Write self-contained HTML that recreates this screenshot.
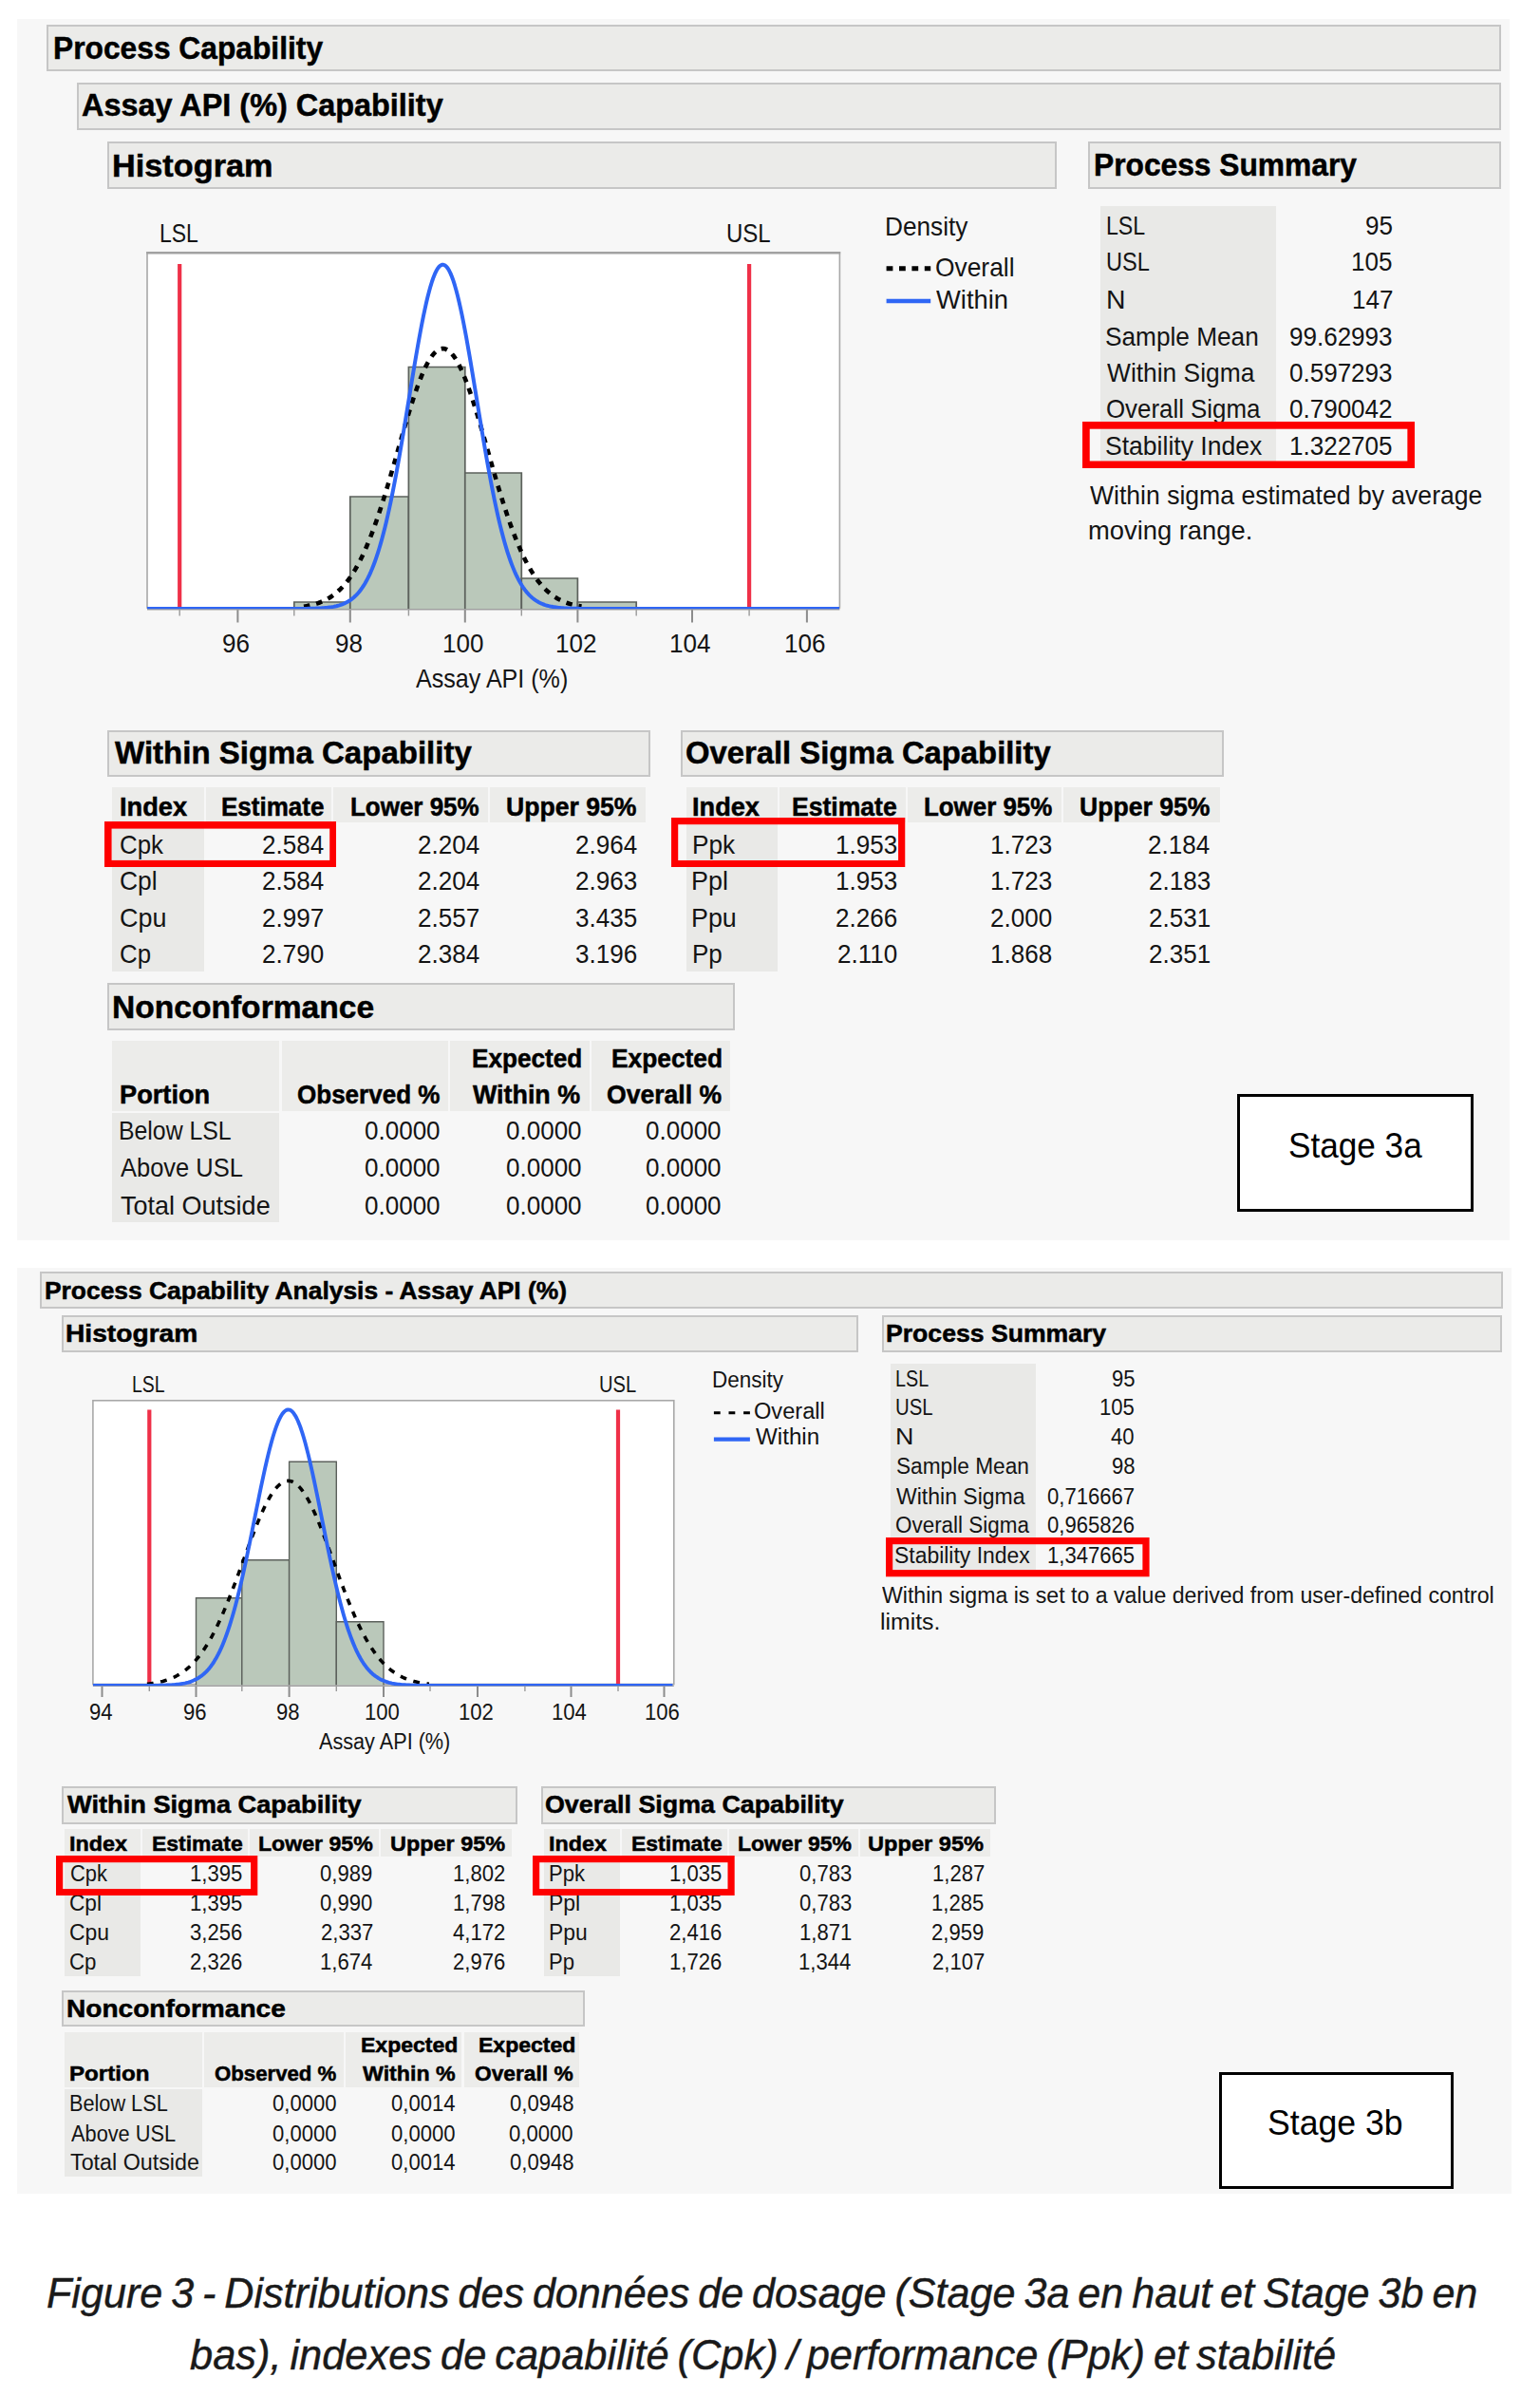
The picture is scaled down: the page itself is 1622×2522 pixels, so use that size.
<!DOCTYPE html>
<html lang="fr"><head><meta charset="utf-8"><title>Process Capability - Figure 3</title><style>
html,body{margin:0;padding:0;background:#fff}
#page{position:relative;width:1622px;height:2522px;overflow:hidden;background:#fff;font-family:"Liberation Sans",sans-serif;color:#141414}
.r{position:absolute;box-sizing:content-box}
.t{position:absolute;white-space:nowrap;transform-origin:0 0;display:block}
.hd{background:#ebebe9;border:2px solid #c6c6c6}
.stage{background:#fff;border:3px solid #000}
.cap{-webkit-text-stroke:0.45px #1a1a1a}
</style></head><body><div id="page">
<div class="r panel" style="left:18.0px;top:20.0px;width:1572.0px;height:1285.5px;background:#f7f7f7;"></div>
<div class="r hd" style="left:49.4px;top:26.0px;width:1527.6px;height:45.3px"></div>
<span class="t" style="left:55.94px;top:31.00px;font-size:34px;line-height:38px;transform:scaleX(0.9336);font-weight:bold;-webkit-text-stroke:0.5px #000;color:#000;">Process Capability</span>
<div class="r hd" style="left:80.5px;top:87.2px;width:1496.5px;height:45.4px"></div>
<span class="t" style="left:86.49px;top:91.00px;font-size:34px;line-height:38px;transform:scaleX(0.9533);font-weight:bold;-webkit-text-stroke:0.5px #000;color:#000;">Assay API (%) Capability</span>
<div class="r hd" style="left:113.0px;top:149.2px;width:995.7px;height:45.6px"></div>
<span class="t" style="left:118.37px;top:155.00px;font-size:34px;line-height:38px;transform:scaleX(1.0081);font-weight:bold;-webkit-text-stroke:0.5px #000;color:#000;">Histogram</span>
<div class="r hd" style="left:1145.5px;top:149.4px;width:431.5px;height:45.4px"></div>
<span class="t" style="left:1151.64px;top:154.00px;font-size:34px;line-height:38px;transform:scaleX(0.9332);font-weight:bold;-webkit-text-stroke:0.5px #000;color:#000;">Process Summary</span>
<svg class="r" style="left:0;top:0" width="1622" height="2522" viewBox="0 0 1622 2522">
<rect x="155" y="265.8" width="729.4" height="374.2" fill="#fff" stroke="#a8a8a8" stroke-width="1.6"/>
<line x1="154.2" x2="885.1999999999999" y1="266.3" y2="266.3" stroke="#a2a2a2" stroke-width="2.4"/>
<path d="M309.8,641.0 V634.0 H368.8 V641.0" fill="#bac8ba" stroke="#5c615c" stroke-width="1.7"/>
<path d="M368.8,641.0 V523.0 H430.4 V641.0" fill="#bac8ba" stroke="#5c615c" stroke-width="1.7"/>
<path d="M430.4,641.0 V386.5 H489.8 V641.0" fill="#bac8ba" stroke="#5c615c" stroke-width="1.7"/>
<path d="M489.8,641.0 V498.0 H549.3 V641.0" fill="#bac8ba" stroke="#5c615c" stroke-width="1.7"/>
<path d="M549.3,641.0 V609.0 H608.4 V641.0" fill="#bac8ba" stroke="#5c615c" stroke-width="1.7"/>
<path d="M608.4,641.0 V634.0 H670.2 V641.0" fill="#bac8ba" stroke="#5c615c" stroke-width="1.7"/>
<line x1="250.4" x2="250.4" y1="641" y2="655.5" stroke="#8c8c8c" stroke-width="2"/>
<line x1="368.8" x2="368.8" y1="641" y2="655.5" stroke="#8c8c8c" stroke-width="2"/>
<line x1="489.8" x2="489.8" y1="641" y2="655.5" stroke="#8c8c8c" stroke-width="2"/>
<line x1="608.4" x2="608.4" y1="641" y2="655.5" stroke="#8c8c8c" stroke-width="2"/>
<line x1="729.0" x2="729.0" y1="641" y2="655.5" stroke="#8c8c8c" stroke-width="2"/>
<line x1="849.9" x2="849.9" y1="641" y2="655.5" stroke="#8c8c8c" stroke-width="2"/>
<line x1="189.2" x2="189.2" y1="641" y2="648.5" stroke="#9a9a9a" stroke-width="1.4"/>
<line x1="309.8" x2="309.8" y1="641" y2="648.5" stroke="#9a9a9a" stroke-width="1.4"/>
<line x1="430.4" x2="430.4" y1="641" y2="648.5" stroke="#9a9a9a" stroke-width="1.4"/>
<line x1="549.3" x2="549.3" y1="641" y2="648.5" stroke="#9a9a9a" stroke-width="1.4"/>
<line x1="670.2" x2="670.2" y1="641" y2="648.5" stroke="#9a9a9a" stroke-width="1.4"/>
<line x1="789.1" x2="789.1" y1="641" y2="648.5" stroke="#9a9a9a" stroke-width="1.4"/>
<line x1="155" x2="884.4" y1="641.8" y2="641.8" stroke="#a0a0a0" stroke-width="1.6"/>
<line x1="189.2" x2="189.2" y1="278" y2="640" stroke="#ef3048" stroke-width="4.2"/>
<line x1="789.1" x2="789.1" y1="278" y2="640" stroke="#ef3048" stroke-width="4.2"/>
<clipPath id="cp155"><rect x="155" y="265.8" width="729.4" height="375.40000000000003"/></clipPath>
<g clip-path="url(#cp155)">
<path d="M320.0,638.65 L321.5,638.41 L323.0,638.15 L324.5,637.87 L326.0,637.56 L327.5,637.22 L329.0,636.86 L330.5,636.46 L332.0,636.04 L333.5,635.57 L335.0,635.07 L336.5,634.53 L338.0,633.95 L339.5,633.33 L341.0,632.66 L342.5,631.93 L344.0,631.16 L345.5,630.33 L347.0,629.44 L348.5,628.49 L350.0,627.47 L351.5,626.39 L353.0,625.23 L354.5,624.00 L356.0,622.70 L357.5,621.31 L359.0,619.84 L360.5,618.28 L362.0,616.63 L363.5,614.89 L365.0,613.05 L366.5,611.12 L368.0,609.08 L369.5,606.93 L371.0,604.68 L372.5,602.31 L374.0,599.84 L375.5,597.24 L377.0,594.54 L378.5,591.71 L380.0,588.76 L381.5,585.70 L383.0,582.51 L384.5,579.20 L386.0,575.76 L387.5,572.21 L389.0,568.53 L390.5,564.74 L392.0,560.82 L393.5,556.79 L395.0,552.65 L396.5,548.39 L398.0,544.02 L399.5,539.55 L401.0,534.99 L402.5,530.32 L404.0,525.57 L405.5,520.73 L407.0,515.81 L408.5,510.82 L410.0,505.77 L411.5,500.67 L413.0,495.51 L414.5,490.32 L416.0,485.10 L417.5,479.86 L419.0,474.61 L420.5,469.36 L422.0,464.12 L423.5,458.90 L425.0,453.72 L426.5,448.58 L428.0,443.50 L429.5,438.48 L431.0,433.55 L432.5,428.71 L434.0,423.97 L435.5,419.35 L437.0,414.85 L438.5,410.50 L440.0,406.29 L441.5,402.25 L443.0,398.38 L444.5,394.70 L446.0,391.21 L447.5,387.92 L449.0,384.84 L450.5,381.99 L452.0,379.36 L453.5,376.98 L455.0,374.84 L456.5,372.94 L458.0,371.31 L459.5,369.94 L461.0,368.83 L462.5,367.99 L464.0,367.42 L465.5,367.12 L467.0,367.10 L468.5,367.35 L470.0,367.87 L471.5,368.67 L473.0,369.73 L474.5,371.06 L476.0,372.65 L477.5,374.50 L479.0,376.60 L480.5,378.94 L482.0,381.53 L483.5,384.34 L485.0,387.38 L486.5,390.63 L488.0,394.09 L489.5,397.75 L491.0,401.58 L492.5,405.60 L494.0,409.78 L495.5,414.11 L497.0,418.58 L498.5,423.18 L500.0,427.90 L501.5,432.72 L503.0,437.64 L504.5,442.64 L506.0,447.71 L507.5,452.84 L509.0,458.02 L510.5,463.23 L512.0,468.47 L513.5,473.72 L515.0,478.97 L516.5,484.21 L518.0,489.44 L519.5,494.64 L521.0,499.80 L522.5,504.91 L524.0,509.97 L525.5,514.97 L527.0,519.90 L528.5,524.75 L530.0,529.52 L531.5,534.20 L533.0,538.79 L534.5,543.28 L536.0,547.66 L537.5,551.93 L539.0,556.10 L540.5,560.15 L542.0,564.08 L543.5,567.90 L545.0,571.60 L546.5,575.17 L548.0,578.62 L549.5,581.96 L551.0,585.17 L552.5,588.25 L554.0,591.22 L555.5,594.07 L557.0,596.79 L558.5,599.40 L560.0,601.90 L561.5,604.28 L563.0,606.56 L564.5,608.72 L566.0,610.78 L567.5,612.73 L569.0,614.59 L570.5,616.35 L572.0,618.01 L573.5,619.58 L575.0,621.07 L576.5,622.47 L578.0,623.79 L579.5,625.03 L581.0,626.20 L582.5,627.29 L584.0,628.32 L585.5,629.28 L587.0,630.18 L588.5,631.02 L590.0,631.81 L591.5,632.54 L593.0,633.22 L594.5,633.85 L596.0,634.44 L597.5,634.98 L599.0,635.49 L600.5,635.96 L602.0,636.39 L603.5,636.79 L605.0,637.16 L606.5,637.50 L608.0,637.82 L609.5,638.10 L611.0,638.37 L612.5,638.61" fill="none" stroke="#000" stroke-width="4.6" stroke-dasharray="6.5 6.9" stroke-dashoffset="0"/>
<path d="M155.0,641.00 L156.5,641.00 L158.0,641.00 L159.5,641.00 L161.0,641.00 L162.5,641.00 L164.0,641.00 L165.5,641.00 L167.0,641.00 L168.5,641.00 L170.0,641.00 L171.5,641.00 L173.0,641.00 L174.5,641.00 L176.0,641.00 L177.5,641.00 L179.0,641.00 L180.5,641.00 L182.0,641.00 L183.5,641.00 L185.0,641.00 L186.5,641.00 L188.0,641.00 L189.5,641.00 L191.0,641.00 L192.5,641.00 L194.0,641.00 L195.5,641.00 L197.0,641.00 L198.5,641.00 L200.0,641.00 L201.5,641.00 L203.0,641.00 L204.5,641.00 L206.0,641.00 L207.5,641.00 L209.0,641.00 L210.5,641.00 L212.0,641.00 L213.5,641.00 L215.0,641.00 L216.5,641.00 L218.0,641.00 L219.5,641.00 L221.0,641.00 L222.5,641.00 L224.0,641.00 L225.5,641.00 L227.0,641.00 L228.5,641.00 L230.0,641.00 L231.5,641.00 L233.0,641.00 L234.5,641.00 L236.0,641.00 L237.5,641.00 L239.0,641.00 L240.5,641.00 L242.0,641.00 L243.5,641.00 L245.0,641.00 L246.5,641.00 L248.0,641.00 L249.5,641.00 L251.0,641.00 L252.5,641.00 L254.0,641.00 L255.5,641.00 L257.0,641.00 L258.5,641.00 L260.0,641.00 L261.5,641.00 L263.0,641.00 L264.5,641.00 L266.0,641.00 L267.5,641.00 L269.0,641.00 L270.5,641.00 L272.0,641.00 L273.5,641.00 L275.0,641.00 L276.5,641.00 L278.0,641.00 L279.5,641.00 L281.0,641.00 L282.5,641.00 L284.0,641.00 L285.5,641.00 L287.0,641.00 L288.5,641.00 L290.0,641.00 L291.5,641.00 L293.0,641.00 L294.5,641.00 L296.0,641.00 L297.5,640.99 L299.0,640.99 L300.5,640.99 L302.0,640.99 L303.5,640.99 L305.0,640.99 L306.5,640.98 L308.0,640.98 L309.5,640.97 L311.0,640.97 L312.5,640.96 L314.0,640.96 L315.5,640.95 L317.0,640.94 L318.5,640.93 L320.0,640.91 L321.5,640.90 L323.0,640.88 L324.5,640.85 L326.0,640.83 L327.5,640.80 L329.0,640.76 L330.5,640.72 L332.0,640.67 L333.5,640.62 L335.0,640.56 L336.5,640.48 L338.0,640.40 L339.5,640.30 L341.0,640.19 L342.5,640.07 L344.0,639.92 L345.5,639.76 L347.0,639.57 L348.5,639.36 L350.0,639.12 L351.5,638.85 L353.0,638.54 L354.5,638.20 L356.0,637.81 L357.5,637.38 L359.0,636.89 L360.5,636.35 L362.0,635.74 L363.5,635.07 L365.0,634.32 L366.5,633.49 L368.0,632.57 L369.5,631.55 L371.0,630.43 L372.5,629.20 L374.0,627.84 L375.5,626.36 L377.0,624.74 L378.5,622.97 L380.0,621.04 L381.5,618.95 L383.0,616.67 L384.5,614.21 L386.0,611.56 L387.5,608.69 L389.0,605.61 L390.5,602.31 L392.0,598.77 L393.5,594.98 L395.0,590.95 L396.5,586.65 L398.0,582.09 L399.5,577.26 L401.0,572.15 L402.5,566.77 L404.0,561.10 L405.5,555.15 L407.0,548.92 L408.5,542.40 L410.0,535.62 L411.5,528.56 L413.0,521.23 L414.5,513.66 L416.0,505.84 L417.5,497.79 L419.0,489.53 L420.5,481.07 L422.0,472.43 L423.5,463.64 L425.0,454.71 L426.5,445.68 L428.0,436.56 L429.5,427.40 L431.0,418.21 L432.5,409.03 L434.0,399.90 L435.5,390.85 L437.0,381.91 L438.5,373.12 L440.0,364.51 L441.5,356.13 L443.0,348.01 L444.5,340.18 L446.0,332.68 L447.5,325.54 L449.0,318.81 L450.5,312.50 L452.0,306.66 L453.5,301.30 L455.0,296.47 L456.5,292.17 L458.0,288.44 L459.5,285.30 L461.0,282.75 L462.5,280.81 L464.0,279.49 L465.5,278.81 L467.0,278.75 L468.5,279.33 L470.0,280.54 L471.5,282.38 L473.0,284.82 L474.5,287.87 L476.0,291.50 L477.5,295.70 L479.0,300.45 L480.5,305.72 L482.0,311.48 L483.5,317.71 L485.0,324.37 L486.5,331.44 L488.0,338.88 L489.5,346.66 L491.0,354.74 L492.5,363.08 L494.0,371.65 L495.5,380.41 L497.0,389.33 L498.5,398.36 L500.0,407.49 L501.5,416.66 L503.0,425.84 L504.5,435.01 L506.0,444.14 L507.5,453.19 L509.0,462.13 L510.5,470.95 L512.0,479.62 L513.5,488.11 L515.0,496.41 L516.5,504.49 L518.0,512.35 L519.5,519.97 L521.0,527.34 L522.5,534.44 L524.0,541.27 L525.5,547.83 L527.0,554.11 L528.5,560.11 L530.0,565.83 L531.5,571.26 L533.0,576.42 L534.5,581.29 L536.0,585.90 L537.5,590.24 L539.0,594.32 L540.5,598.14 L542.0,601.73 L543.5,605.07 L545.0,608.19 L546.5,611.09 L548.0,613.78 L549.5,616.27 L551.0,618.57 L552.5,620.70 L554.0,622.65 L555.5,624.45 L557.0,626.09 L558.5,627.60 L560.0,628.98 L561.5,630.23 L563.0,631.37 L564.5,632.40 L566.0,633.34 L567.5,634.18 L569.0,634.95 L570.5,635.63 L572.0,636.25 L573.5,636.80 L575.0,637.30 L576.5,637.74 L578.0,638.14 L579.5,638.49 L581.0,638.80 L582.5,639.08 L584.0,639.32 L585.5,639.54 L587.0,639.73 L588.5,639.90 L590.0,640.04 L591.5,640.17 L593.0,640.29 L594.5,640.38 L596.0,640.47 L597.5,640.55 L599.0,640.61 L600.5,640.67 L602.0,640.71 L603.5,640.76 L605.0,640.79 L606.5,640.82 L608.0,640.85 L609.5,640.87 L611.0,640.89 L612.5,640.91 L614.0,640.92 L615.5,640.94 L617.0,640.95 L618.5,640.95 L620.0,640.96 L621.5,640.97 L623.0,640.97 L624.5,640.98 L626.0,640.98 L627.5,640.98 L629.0,640.99 L630.5,640.99 L632.0,640.99 L633.5,640.99 L635.0,640.99 L636.5,641.00 L638.0,641.00 L639.5,641.00 L641.0,641.00 L642.5,641.00 L644.0,641.00 L645.5,641.00 L647.0,641.00 L648.5,641.00 L650.0,641.00 L651.5,641.00 L653.0,641.00 L654.5,641.00 L656.0,641.00 L657.5,641.00 L659.0,641.00 L660.5,641.00 L662.0,641.00 L663.5,641.00 L665.0,641.00 L666.5,641.00 L668.0,641.00 L669.5,641.00 L671.0,641.00 L672.5,641.00 L674.0,641.00 L675.5,641.00 L677.0,641.00 L678.5,641.00 L680.0,641.00 L681.5,641.00 L683.0,641.00 L684.5,641.00 L686.0,641.00 L687.5,641.00 L689.0,641.00 L690.5,641.00 L692.0,641.00 L693.5,641.00 L695.0,641.00 L696.5,641.00 L698.0,641.00 L699.5,641.00 L701.0,641.00 L702.5,641.00 L704.0,641.00 L705.5,641.00 L707.0,641.00 L708.5,641.00 L710.0,641.00 L711.5,641.00 L713.0,641.00 L714.5,641.00 L716.0,641.00 L717.5,641.00 L719.0,641.00 L720.5,641.00 L722.0,641.00 L723.5,641.00 L725.0,641.00 L726.5,641.00 L728.0,641.00 L729.5,641.00 L731.0,641.00 L732.5,641.00 L734.0,641.00 L735.5,641.00 L737.0,641.00 L738.5,641.00 L740.0,641.00 L741.5,641.00 L743.0,641.00 L744.5,641.00 L746.0,641.00 L747.5,641.00 L749.0,641.00 L750.5,641.00 L752.0,641.00 L753.5,641.00 L755.0,641.00 L756.5,641.00 L758.0,641.00 L759.5,641.00 L761.0,641.00 L762.5,641.00 L764.0,641.00 L765.5,641.00 L767.0,641.00 L768.5,641.00 L770.0,641.00 L771.5,641.00 L773.0,641.00 L774.5,641.00 L776.0,641.00 L777.5,641.00 L779.0,641.00 L780.5,641.00 L782.0,641.00 L783.5,641.00 L785.0,641.00 L786.5,641.00 L788.0,641.00 L789.5,641.00 L791.0,641.00 L792.5,641.00 L794.0,641.00 L795.5,641.00 L797.0,641.00 L798.5,641.00 L800.0,641.00 L801.5,641.00 L803.0,641.00 L804.5,641.00 L806.0,641.00 L807.5,641.00 L809.0,641.00 L810.5,641.00 L812.0,641.00 L813.5,641.00 L815.0,641.00 L816.5,641.00 L818.0,641.00 L819.5,641.00 L821.0,641.00 L822.5,641.00 L824.0,641.00 L825.5,641.00 L827.0,641.00 L828.5,641.00 L830.0,641.00 L831.5,641.00 L833.0,641.00 L834.5,641.00 L836.0,641.00 L837.5,641.00 L839.0,641.00 L840.5,641.00 L842.0,641.00 L843.5,641.00 L845.0,641.00 L846.5,641.00 L848.0,641.00 L849.5,641.00 L851.0,641.00 L852.5,641.00 L854.0,641.00 L855.5,641.00 L857.0,641.00 L858.5,641.00 L860.0,641.00 L861.5,641.00 L863.0,641.00 L864.5,641.00 L866.0,641.00 L867.5,641.00 L869.0,641.00 L870.5,641.00 L872.0,641.00 L873.5,641.00 L875.0,641.00 L876.5,641.00 L878.0,641.00 L879.5,641.00 L881.0,641.00 L882.5,641.00 L884.0,641.00" fill="none" stroke="#2f66f5" stroke-width="4" stroke-linejoin="round"/>
</g></svg>
<span class="t" style="left:234.49px;top:662.00px;font-size:27.6px;line-height:31px;transform:scaleX(0.9430);">96</span>
<span class="t" style="left:352.89px;top:662.00px;font-size:27.6px;line-height:31px;transform:scaleX(0.9430);">98</span>
<span class="t" style="left:466.21px;top:662.00px;font-size:27.6px;line-height:31px;transform:scaleX(0.9430);">100</span>
<span class="t" style="left:585.01px;top:662.00px;font-size:27.6px;line-height:31px;transform:scaleX(0.9430);">102</span>
<span class="t" style="left:705.35px;top:662.00px;font-size:27.6px;line-height:31px;transform:scaleX(0.9430);">104</span>
<span class="t" style="left:826.38px;top:662.00px;font-size:27.6px;line-height:31px;transform:scaleX(0.9430);">106</span>
<span class="t" style="left:438.00px;top:699.00px;font-size:27.6px;line-height:31px;transform:scaleX(0.9089);">Assay API (%)</span>
<span class="t" style="left:168.36px;top:230.00px;font-size:27.6px;line-height:31px;transform:scaleX(0.8331);">LSL</span>
<span class="t" style="left:765.00px;top:230.00px;font-size:27.6px;line-height:31px;transform:scaleX(0.8704);">USL</span>
<span class="t" style="left:931.50px;top:223.00px;font-size:27.6px;line-height:31px;transform:scaleX(0.9506);">Density</span>
<span class="t" style="left:985.01px;top:266.00px;font-size:27.6px;line-height:31px;transform:scaleX(0.9559);">Overall</span>
<span class="t" style="left:986.36px;top:300.00px;font-size:27.6px;line-height:31px;transform:scaleX(0.9912);">Within</span>
<svg class="r" style="left:0;top:0" width="1622" height="2522" viewBox="0 0 1622 2522"><line x1="933.6" x2="980.2" y1="282.8" y2="282.8" stroke="#000" stroke-width="5" stroke-dasharray="6.8 6.6"/><line x1="933.6" x2="980.2" y1="317" y2="317" stroke="#2f66f5" stroke-width="4.4"/></svg>
<div class="r " style="left:1158.8px;top:217.3px;width:185.5px;height:268.3px;background:#e9e9e7;"></div>
<span class="t" style="left:1164.75px;top:222.00px;font-size:27.6px;line-height:31px;transform:scaleX(0.8375);">LSL</span>
<span class="t" style="left:1437.85px;top:222.00px;font-size:27.6px;line-height:31px;transform:scaleX(0.9430);">95</span>
<span class="t" style="left:1164.83px;top:260.00px;font-size:27.6px;line-height:31px;transform:scaleX(0.8546);">USL</span>
<span class="t" style="left:1423.41px;top:260.00px;font-size:27.6px;line-height:31px;transform:scaleX(0.9430);">105</span>
<span class="t" style="left:1164.93px;top:300.00px;font-size:27.6px;line-height:31px;transform:scaleX(1.0287);">N</span>
<span class="t" style="left:1423.67px;top:300.00px;font-size:27.6px;line-height:31px;transform:scaleX(0.9430);">147</span>
<span class="t" style="left:1164.32px;top:339.00px;font-size:27.6px;line-height:31px;transform:scaleX(0.9500);">Sample Mean</span>
<span class="t" style="left:1358.21px;top:339.00px;font-size:27.6px;line-height:31px;transform:scaleX(0.9430);">99.62993</span>
<span class="t" style="left:1165.57px;top:377.00px;font-size:27.6px;line-height:31px;transform:scaleX(0.9555);">Within Sigma</span>
<span class="t" style="left:1358.21px;top:377.00px;font-size:27.6px;line-height:31px;transform:scaleX(0.9430);">0.597293</span>
<span class="t" style="left:1164.54px;top:415.00px;font-size:27.6px;line-height:31px;transform:scaleX(0.9373);">Overall Sigma</span>
<span class="t" style="left:1358.47px;top:415.00px;font-size:27.6px;line-height:31px;transform:scaleX(0.9430);">0.790042</span>
<span class="t" style="left:1164.41px;top:454.00px;font-size:27.6px;line-height:31px;transform:scaleX(0.9619);">Stability Index</span>
<span class="t" style="left:1358.21px;top:454.00px;font-size:27.6px;line-height:31px;transform:scaleX(0.9430);">1.322705</span>
<svg class="r red" style="left:1139.6px;top:443.8px" width="350.1" height="49.2" viewBox="0 0 350.1 49.2"><rect x="3.85" y="3.85" width="342.4" height="41.5" fill="none" stroke="#fe0000" stroke-width="7.7"/></svg>
<span class="t" style="left:1147.87px;top:506.00px;font-size:27.6px;line-height:31px;transform:scaleX(0.9624);">Within sigma estimated by average</span>
<span class="t" style="left:1146.22px;top:543.00px;font-size:27.6px;line-height:31px;transform:scaleX(0.9908);">moving range.</span>
<div class="r hd" style="left:112.9px;top:768.9px;width:567.7px;height:44.7px"></div>
<span class="t" style="left:121.00px;top:773.00px;font-size:34px;line-height:38px;transform:scaleX(0.9712);font-weight:bold;-webkit-text-stroke:0.5px #000;color:#000;">Within Sigma Capability</span>
<div class="r " style="left:118.3px;top:829.3px;width:96.9px;height:36.7px;background:#ececea;"></div>
<div class="r " style="left:217.2px;top:829.3px;width:132.2px;height:36.7px;background:#ececea;"></div>
<div class="r " style="left:351.4px;top:829.3px;width:162.3px;height:36.7px;background:#ececea;"></div>
<div class="r " style="left:515.7px;top:829.3px;width:164.8px;height:36.7px;background:#ececea;"></div>
<div class="r " style="left:118.3px;top:866.0px;width:96.9px;height:157.0px;background:#e9e9e7;"></div>
<span class="t" style="left:126.03px;top:834.00px;font-size:27.5px;line-height:31px;transform:scaleX(0.9907);font-weight:bold;-webkit-text-stroke:0.5px #000;color:#000;">Index</span>
<span class="t" style="left:232.51px;top:834.00px;font-size:27.5px;line-height:31px;transform:scaleX(0.9464);font-weight:bold;-webkit-text-stroke:0.5px #000;color:#000;">Estimate</span>
<span class="t" style="left:368.81px;top:834.00px;font-size:27.5px;line-height:31px;transform:scaleX(0.9440);font-weight:bold;-webkit-text-stroke:0.5px #000;color:#000;">Lower 95%</span>
<span class="t" style="left:533.20px;top:834.00px;font-size:27.5px;line-height:31px;transform:scaleX(0.9668);font-weight:bold;-webkit-text-stroke:0.5px #000;color:#000;">Upper 95%</span>
<span class="t" style="left:125.71px;top:874.00px;font-size:27.6px;line-height:31px;transform:scaleX(0.9362);">Cpk</span>
<span class="t" style="left:275.71px;top:874.00px;font-size:27.6px;line-height:31px;transform:scaleX(0.9430);">2.584</span>
<span class="t" style="left:439.51px;top:874.00px;font-size:27.6px;line-height:31px;transform:scaleX(0.9430);">2.204</span>
<span class="t" style="left:605.71px;top:874.00px;font-size:27.6px;line-height:31px;transform:scaleX(0.9430);">2.964</span>
<span class="t" style="left:125.68px;top:912.00px;font-size:27.6px;line-height:31px;transform:scaleX(0.9575);">Cpl</span>
<span class="t" style="left:275.71px;top:912.00px;font-size:27.6px;line-height:31px;transform:scaleX(0.9430);">2.584</span>
<span class="t" style="left:439.51px;top:912.00px;font-size:27.6px;line-height:31px;transform:scaleX(0.9430);">2.204</span>
<span class="t" style="left:605.97px;top:912.00px;font-size:27.6px;line-height:31px;transform:scaleX(0.9430);">2.963</span>
<span class="t" style="left:125.65px;top:951.00px;font-size:27.6px;line-height:31px;transform:scaleX(0.9753);">Cpu</span>
<span class="t" style="left:276.23px;top:951.00px;font-size:27.6px;line-height:31px;transform:scaleX(0.9430);">2.997</span>
<span class="t" style="left:440.03px;top:951.00px;font-size:27.6px;line-height:31px;transform:scaleX(0.9430);">2.557</span>
<span class="t" style="left:605.97px;top:951.00px;font-size:27.6px;line-height:31px;transform:scaleX(0.9430);">3.435</span>
<span class="t" style="left:125.71px;top:989.00px;font-size:27.6px;line-height:31px;transform:scaleX(0.9356);">Cp</span>
<span class="t" style="left:275.84px;top:989.00px;font-size:27.6px;line-height:31px;transform:scaleX(0.9430);">2.790</span>
<span class="t" style="left:439.51px;top:989.00px;font-size:27.6px;line-height:31px;transform:scaleX(0.9430);">2.384</span>
<span class="t" style="left:605.97px;top:989.00px;font-size:27.6px;line-height:31px;transform:scaleX(0.9430);">3.196</span>
<svg class="r red" style="left:109.7px;top:864.7px" width="244.8" height="48.5" viewBox="0 0 244.8 48.5"><rect x="3.8" y="3.8" width="237.2" height="40.9" fill="none" stroke="#fe0000" stroke-width="7.6"/></svg>
<div class="r hd" style="left:716.9px;top:768.9px;width:568.1px;height:44.7px"></div>
<span class="t" style="left:722.19px;top:773.00px;font-size:34px;line-height:38px;transform:scaleX(0.9647);font-weight:bold;-webkit-text-stroke:0.5px #000;color:#000;">Overall Sigma Capability</span>
<div class="r " style="left:723.0px;top:829.3px;width:96.0px;height:36.7px;background:#ececea;"></div>
<div class="r " style="left:821.0px;top:829.3px;width:133.2px;height:36.7px;background:#ececea;"></div>
<div class="r " style="left:956.2px;top:829.3px;width:161.5px;height:36.7px;background:#ececea;"></div>
<div class="r " style="left:1119.7px;top:829.3px;width:164.9px;height:36.7px;background:#ececea;"></div>
<div class="r " style="left:723.0px;top:866.0px;width:96.0px;height:157.0px;background:#e9e9e7;"></div>
<span class="t" style="left:729.03px;top:834.00px;font-size:27.5px;line-height:31px;transform:scaleX(0.9878);font-weight:bold;-webkit-text-stroke:0.5px #000;color:#000;">Index</span>
<span class="t" style="left:834.27px;top:834.00px;font-size:27.5px;line-height:31px;transform:scaleX(0.9661);font-weight:bold;-webkit-text-stroke:0.5px #000;color:#000;">Estimate</span>
<span class="t" style="left:972.82px;top:834.00px;font-size:27.5px;line-height:31px;transform:scaleX(0.9411);font-weight:bold;-webkit-text-stroke:0.5px #000;color:#000;">Lower 95%</span>
<span class="t" style="left:1136.90px;top:834.00px;font-size:27.5px;line-height:31px;transform:scaleX(0.9668);font-weight:bold;-webkit-text-stroke:0.5px #000;color:#000;">Upper 95%</span>
<span class="t" style="left:728.50px;top:874.00px;font-size:27.6px;line-height:31px;transform:scaleX(0.9493);">Ppk</span>
<span class="t" style="left:879.97px;top:874.00px;font-size:27.6px;line-height:31px;transform:scaleX(0.9430);">1.953</span>
<span class="t" style="left:1043.37px;top:874.00px;font-size:27.6px;line-height:31px;transform:scaleX(0.9430);">1.723</span>
<span class="t" style="left:1209.41px;top:874.00px;font-size:27.6px;line-height:31px;transform:scaleX(0.9430);">2.184</span>
<span class="t" style="left:728.45px;top:912.00px;font-size:27.6px;line-height:31px;transform:scaleX(0.9755);">Ppl</span>
<span class="t" style="left:879.97px;top:912.00px;font-size:27.6px;line-height:31px;transform:scaleX(0.9430);">1.953</span>
<span class="t" style="left:1043.37px;top:912.00px;font-size:27.6px;line-height:31px;transform:scaleX(0.9430);">1.723</span>
<span class="t" style="left:1209.67px;top:912.00px;font-size:27.6px;line-height:31px;transform:scaleX(0.9430);">2.183</span>
<span class="t" style="left:728.45px;top:951.00px;font-size:27.6px;line-height:31px;transform:scaleX(0.9728);">Ppu</span>
<span class="t" style="left:879.97px;top:951.00px;font-size:27.6px;line-height:31px;transform:scaleX(0.9430);">2.266</span>
<span class="t" style="left:1043.24px;top:951.00px;font-size:27.6px;line-height:31px;transform:scaleX(0.9430);">2.000</span>
<span class="t" style="left:1209.80px;top:951.00px;font-size:27.6px;line-height:31px;transform:scaleX(0.9430);">2.531</span>
<span class="t" style="left:728.52px;top:989.00px;font-size:27.6px;line-height:31px;transform:scaleX(0.9420);">Pp</span>
<span class="t" style="left:881.80px;top:989.00px;font-size:27.6px;line-height:31px;transform:scaleX(0.9430);">2.110</span>
<span class="t" style="left:1043.37px;top:989.00px;font-size:27.6px;line-height:31px;transform:scaleX(0.9430);">1.868</span>
<span class="t" style="left:1209.80px;top:989.00px;font-size:27.6px;line-height:31px;transform:scaleX(0.9430);">2.351</span>
<svg class="r red" style="left:707.3px;top:860.8px" width="246.3" height="52.2" viewBox="0 0 246.3 52.2"><rect x="3.6" y="3.6" width="239.1" height="45.0" fill="none" stroke="#fe0000" stroke-width="7.2"/></svg>
<div class="r hd" style="left:112.7px;top:1035.0px;width:656.9px;height:45.5px"></div>
<span class="t" style="left:118.42px;top:1041.00px;font-size:34px;line-height:38px;transform:scaleX(0.9874);font-weight:bold;-webkit-text-stroke:0.5px #000;color:#000;">Nonconformance</span>
<div class="r " style="left:118.2px;top:1096.4px;width:176.3px;height:73.6px;background:#ececea;"></div>
<div class="r " style="left:296.5px;top:1096.4px;width:175.2px;height:73.6px;background:#ececea;"></div>
<div class="r " style="left:473.7px;top:1096.4px;width:147.1px;height:73.6px;background:#ececea;"></div>
<div class="r " style="left:622.8px;top:1096.4px;width:146.2px;height:73.6px;background:#ececea;"></div>
<div class="r " style="left:118.2px;top:1171.5px;width:175.8px;height:115.3px;background:#e9e9e7;"></div>
<span class="t" style="left:125.53px;top:1137.00px;font-size:27.5px;line-height:31px;transform:scaleX(0.9891);font-weight:bold;-webkit-text-stroke:0.5px #000;color:#000;">Portion</span>
<span class="t" style="left:312.56px;top:1137.00px;font-size:27.5px;line-height:31px;transform:scaleX(0.9462);font-weight:bold;-webkit-text-stroke:0.5px #000;color:#000;">Observed %</span>
<span class="t" style="left:496.50px;top:1099.00px;font-size:27.5px;line-height:31px;transform:scaleX(0.9514);font-weight:bold;-webkit-text-stroke:0.5px #000;color:#000;">Expected</span>
<span class="t" style="left:498.20px;top:1137.00px;font-size:27.5px;line-height:31px;transform:scaleX(0.9764);font-weight:bold;-webkit-text-stroke:0.5px #000;color:#000;">Within %</span>
<span class="t" style="left:644.29px;top:1099.00px;font-size:27.5px;line-height:31px;transform:scaleX(0.9573);font-weight:bold;-webkit-text-stroke:0.5px #000;color:#000;">Expected</span>
<span class="t" style="left:638.54px;top:1137.00px;font-size:27.5px;line-height:31px;transform:scaleX(0.9659);font-weight:bold;-webkit-text-stroke:0.5px #000;color:#000;">Overall %</span>
<span class="t" style="left:125.31px;top:1175.00px;font-size:27.6px;line-height:31px;transform:scaleX(0.8992);">Below LSL</span>
<span class="t" style="left:383.57px;top:1175.00px;font-size:27.6px;line-height:31px;transform:scaleX(0.9430);">0.0000</span>
<span class="t" style="left:532.67px;top:1175.00px;font-size:27.6px;line-height:31px;transform:scaleX(0.9430);">0.0000</span>
<span class="t" style="left:680.27px;top:1175.00px;font-size:27.6px;line-height:31px;transform:scaleX(0.9430);">0.0000</span>
<span class="t" style="left:127.30px;top:1214.00px;font-size:27.6px;line-height:31px;transform:scaleX(0.9234);">Above USL</span>
<span class="t" style="left:383.57px;top:1214.00px;font-size:27.6px;line-height:31px;transform:scaleX(0.9430);">0.0000</span>
<span class="t" style="left:532.67px;top:1214.00px;font-size:27.6px;line-height:31px;transform:scaleX(0.9430);">0.0000</span>
<span class="t" style="left:680.27px;top:1214.00px;font-size:27.6px;line-height:31px;transform:scaleX(0.9430);">0.0000</span>
<span class="t" style="left:126.76px;top:1254.00px;font-size:27.6px;line-height:31px;transform:scaleX(0.9790);">Total Outside</span>
<span class="t" style="left:383.57px;top:1254.00px;font-size:27.6px;line-height:31px;transform:scaleX(0.9430);">0.0000</span>
<span class="t" style="left:532.67px;top:1254.00px;font-size:27.6px;line-height:31px;transform:scaleX(0.9430);">0.0000</span>
<span class="t" style="left:680.27px;top:1254.00px;font-size:27.6px;line-height:31px;transform:scaleX(0.9430);">0.0000</span>
<div class="r stage" style="left:1302.8px;top:1152px;width:242.8px;height:118.2px"></div>
<span class="t" style="left:1356.82px;top:1186.00px;font-size:36.5px;line-height:41px;transform:scaleX(0.9629);color:#000;">Stage 3a</span>
<div class="r panel" style="left:18.0px;top:1335.0px;width:1574.0px;height:975.0px;background:#f7f7f7;"></div>
<div class="r hd" style="left:41.6px;top:1339.4px;width:1537.4px;height:34.9px"></div>
<span class="t" style="left:46.98px;top:1345.00px;font-size:25.5px;line-height:28px;transform:scaleX(1.0350);font-weight:bold;-webkit-text-stroke:0.5px #000;color:#000;">Process Capability Analysis - Assay API (%)</span>
<div class="r hd" style="left:65.0px;top:1385.2px;width:835.0px;height:34.4px"></div>
<span class="t" style="left:68.97px;top:1390.00px;font-size:25.5px;line-height:28px;transform:scaleX(1.1049);font-weight:bold;-webkit-text-stroke:0.5px #000;color:#000;">Histogram</span>
<div class="r hd" style="left:929.4px;top:1385.2px;width:648.3px;height:34.4px"></div>
<span class="t" style="left:933.07px;top:1390.00px;font-size:25.5px;line-height:28px;transform:scaleX(1.0430);font-weight:bold;-webkit-text-stroke:0.5px #000;color:#000;">Process Summary</span>
<svg class="r" style="left:0;top:0" width="1622" height="2522" viewBox="0 0 1622 2522">
<rect x="97.9" y="1474.8" width="611.9" height="298.70000000000005" fill="#fff" stroke="#a8a8a8" stroke-width="1.6"/>
<path d="M206.5,1774.5 V1682.7 H254.8 V1774.5" fill="#bac8ba" stroke="#5c615c" stroke-width="1.4"/>
<path d="M254.8,1774.5 V1642.7 H304.6 V1774.5" fill="#bac8ba" stroke="#5c615c" stroke-width="1.4"/>
<path d="M304.6,1774.5 V1539.3 H354.3 V1774.5" fill="#bac8ba" stroke="#5c615c" stroke-width="1.4"/>
<path d="M354.3,1774.5 V1707.7 H404.0 V1774.5" fill="#bac8ba" stroke="#5c615c" stroke-width="1.4"/>
<line x1="107.5" x2="107.5" y1="1774.5" y2="1787.0" stroke="#8c8c8c" stroke-width="2"/>
<line x1="206.5" x2="206.5" y1="1774.5" y2="1787.0" stroke="#8c8c8c" stroke-width="2"/>
<line x1="304.6" x2="304.6" y1="1774.5" y2="1787.0" stroke="#8c8c8c" stroke-width="2"/>
<line x1="404.0" x2="404.0" y1="1774.5" y2="1787.0" stroke="#8c8c8c" stroke-width="2"/>
<line x1="503.0" x2="503.0" y1="1774.5" y2="1787.0" stroke="#8c8c8c" stroke-width="2"/>
<line x1="601.5" x2="601.5" y1="1774.5" y2="1787.0" stroke="#8c8c8c" stroke-width="2"/>
<line x1="699.5" x2="699.5" y1="1774.5" y2="1787.0" stroke="#8c8c8c" stroke-width="2"/>
<line x1="157.3" x2="157.3" y1="1774.5" y2="1781.0" stroke="#9a9a9a" stroke-width="1.4"/>
<line x1="254.8" x2="254.8" y1="1774.5" y2="1781.0" stroke="#9a9a9a" stroke-width="1.4"/>
<line x1="354.3" x2="354.3" y1="1774.5" y2="1781.0" stroke="#9a9a9a" stroke-width="1.4"/>
<line x1="453.0" x2="453.0" y1="1774.5" y2="1781.0" stroke="#9a9a9a" stroke-width="1.4"/>
<line x1="552.9" x2="552.9" y1="1774.5" y2="1781.0" stroke="#9a9a9a" stroke-width="1.4"/>
<line x1="651.0" x2="651.0" y1="1774.5" y2="1781.0" stroke="#9a9a9a" stroke-width="1.4"/>
<line x1="97.9" x2="709.8" y1="1775.3" y2="1775.3" stroke="#a0a0a0" stroke-width="1.6"/>
<line x1="157.3" x2="157.3" y1="1484.5" y2="1773.5" stroke="#ef3048" stroke-width="4.2"/>
<line x1="651.0" x2="651.0" y1="1484.5" y2="1773.5" stroke="#ef3048" stroke-width="4.2"/>
<clipPath id="cp97"><rect x="97.9" y="1474.8" width="611.9" height="300.4000000000001"/></clipPath>
<g clip-path="url(#cp97)">
<path d="M154.9,1773.35 L156.4,1773.18 L157.9,1772.99 L159.4,1772.79 L160.9,1772.57 L162.4,1772.33 L163.9,1772.07 L165.4,1771.79 L166.9,1771.48 L168.4,1771.15 L169.9,1770.79 L171.4,1770.41 L172.9,1769.99 L174.4,1769.54 L175.9,1769.06 L177.4,1768.54 L178.9,1767.98 L180.4,1767.38 L181.9,1766.74 L183.4,1766.05 L184.9,1765.31 L186.4,1764.53 L187.9,1763.69 L189.4,1762.80 L190.9,1761.85 L192.4,1760.84 L193.9,1759.77 L195.4,1758.63 L196.9,1757.43 L198.4,1756.15 L199.9,1754.80 L201.4,1753.38 L202.9,1751.88 L204.4,1750.31 L205.9,1748.65 L207.4,1746.90 L208.9,1745.07 L210.4,1743.16 L211.9,1741.15 L213.4,1739.06 L214.9,1736.87 L216.4,1734.59 L217.9,1732.21 L219.4,1729.74 L220.9,1727.17 L222.4,1724.51 L223.9,1721.76 L225.4,1718.91 L226.9,1715.96 L228.4,1712.92 L229.9,1709.79 L231.4,1706.57 L232.9,1703.26 L234.4,1699.87 L235.9,1696.39 L237.4,1692.84 L238.9,1689.21 L240.4,1685.51 L241.9,1681.74 L243.4,1677.90 L244.9,1674.01 L246.4,1670.07 L247.9,1666.09 L249.4,1662.06 L250.9,1658.00 L252.4,1653.91 L253.9,1649.81 L255.4,1645.70 L256.9,1641.58 L258.4,1637.47 L259.9,1633.37 L261.4,1629.29 L262.9,1625.25 L264.4,1621.24 L265.9,1617.29 L267.4,1613.39 L268.9,1609.56 L270.4,1605.81 L271.9,1602.14 L273.4,1598.57 L274.9,1595.10 L276.4,1591.75 L277.9,1588.52 L279.4,1585.42 L280.9,1582.47 L282.4,1579.65 L283.9,1577.00 L285.4,1574.51 L286.9,1572.18 L288.4,1570.03 L289.9,1568.07 L291.4,1566.29 L292.9,1564.71 L294.4,1563.32 L295.9,1562.14 L297.4,1561.16 L298.9,1560.39 L300.4,1559.83 L301.9,1559.49 L303.4,1559.35 L304.9,1559.43 L306.4,1559.73 L307.9,1560.23 L309.4,1560.95 L310.9,1561.88 L312.4,1563.01 L313.9,1564.35 L315.4,1565.88 L316.9,1567.61 L318.4,1569.53 L319.9,1571.63 L321.4,1573.91 L322.9,1576.36 L324.4,1578.98 L325.9,1581.75 L327.4,1584.67 L328.9,1587.74 L330.4,1590.94 L331.9,1594.26 L333.4,1597.70 L334.9,1601.24 L336.4,1604.89 L337.9,1608.62 L339.4,1612.43 L340.9,1616.31 L342.4,1620.25 L343.9,1624.24 L345.4,1628.28 L346.9,1632.35 L348.4,1636.44 L349.9,1640.55 L351.4,1644.67 L352.9,1648.79 L354.4,1652.89 L355.9,1656.98 L357.4,1661.05 L358.9,1665.09 L360.4,1669.08 L361.9,1673.04 L363.4,1676.94 L364.9,1680.79 L366.4,1684.57 L367.9,1688.29 L369.4,1691.94 L370.9,1695.52 L372.4,1699.01 L373.9,1702.43 L375.4,1705.76 L376.9,1709.00 L378.4,1712.15 L379.9,1715.21 L381.4,1718.18 L382.9,1721.06 L384.4,1723.84 L385.9,1726.52 L387.4,1729.11 L388.9,1731.60 L390.4,1734.00 L391.9,1736.31 L393.4,1738.52 L394.9,1740.64 L396.4,1742.67 L397.9,1744.61 L399.4,1746.46 L400.9,1748.22 L402.4,1749.90 L403.9,1751.50 L405.4,1753.02 L406.9,1754.46 L408.4,1755.82 L409.9,1757.12 L411.4,1758.34 L412.9,1759.49 L414.4,1760.58 L415.9,1761.60 L417.4,1762.57 L418.9,1763.47 L420.4,1764.33 L421.9,1765.12 L423.4,1765.87 L424.9,1766.57 L426.4,1767.22 L427.9,1767.83 L429.4,1768.40 L430.9,1768.93 L432.4,1769.42 L433.9,1769.88 L435.4,1770.31 L436.9,1770.70 L438.4,1771.06 L439.9,1771.40 L441.4,1771.71 L442.9,1772.00 L444.4,1772.27 L445.9,1772.51 L447.4,1772.73 L448.9,1772.94 L450.4,1773.13 L451.9,1773.30" fill="none" stroke="#000" stroke-width="3.6" stroke-dasharray="6.8 7.6" stroke-dashoffset="0"/>
<path d="M97.9,1775.00 L99.4,1775.00 L100.9,1775.00 L102.4,1775.00 L103.9,1775.00 L105.4,1775.00 L106.9,1775.00 L108.4,1775.00 L109.9,1775.00 L111.4,1775.00 L112.9,1775.00 L114.4,1775.00 L115.9,1775.00 L117.4,1775.00 L118.9,1775.00 L120.4,1775.00 L121.9,1775.00 L123.4,1775.00 L124.9,1775.00 L126.4,1775.00 L127.9,1775.00 L129.4,1775.00 L130.9,1775.00 L132.4,1775.00 L133.9,1775.00 L135.4,1775.00 L136.9,1775.00 L138.4,1774.99 L139.9,1774.99 L141.4,1774.99 L142.9,1774.99 L144.4,1774.99 L145.9,1774.99 L147.4,1774.98 L148.9,1774.98 L150.4,1774.98 L151.9,1774.97 L153.4,1774.96 L154.9,1774.96 L156.4,1774.95 L157.9,1774.94 L159.4,1774.93 L160.9,1774.92 L162.4,1774.90 L163.9,1774.88 L165.4,1774.86 L166.9,1774.83 L168.4,1774.81 L169.9,1774.77 L171.4,1774.73 L172.9,1774.69 L174.4,1774.63 L175.9,1774.57 L177.4,1774.50 L178.9,1774.42 L180.4,1774.33 L181.9,1774.22 L183.4,1774.10 L184.9,1773.96 L186.4,1773.80 L187.9,1773.63 L189.4,1773.42 L190.9,1773.19 L192.4,1772.93 L193.9,1772.64 L195.4,1772.31 L196.9,1771.94 L198.4,1771.52 L199.9,1771.06 L201.4,1770.54 L202.9,1769.96 L204.4,1769.32 L205.9,1768.61 L207.4,1767.82 L208.9,1766.95 L210.4,1765.99 L211.9,1764.93 L213.4,1763.77 L214.9,1762.50 L216.4,1761.11 L217.9,1759.59 L219.4,1757.94 L220.9,1756.14 L222.4,1754.19 L223.9,1752.08 L225.4,1749.81 L226.9,1747.35 L228.4,1744.71 L229.9,1741.88 L231.4,1738.86 L232.9,1735.62 L234.4,1732.17 L235.9,1728.51 L237.4,1724.62 L238.9,1720.50 L240.4,1716.16 L241.9,1711.58 L243.4,1706.77 L244.9,1701.72 L246.4,1696.45 L247.9,1690.94 L249.4,1685.21 L250.9,1679.27 L252.4,1673.11 L253.9,1666.75 L255.4,1660.21 L256.9,1653.48 L258.4,1646.60 L259.9,1639.56 L261.4,1632.40 L262.9,1625.13 L264.4,1617.77 L265.9,1610.35 L267.4,1602.89 L268.9,1595.41 L270.4,1587.95 L271.9,1580.52 L273.4,1573.17 L274.9,1565.91 L276.4,1558.78 L277.9,1551.81 L279.4,1545.03 L280.9,1538.47 L282.4,1532.16 L283.9,1526.13 L285.4,1520.41 L286.9,1515.03 L288.4,1510.01 L289.9,1505.38 L291.4,1501.16 L292.9,1497.38 L294.4,1494.05 L295.9,1491.19 L297.4,1488.82 L298.9,1486.94 L300.4,1485.58 L301.9,1484.73 L303.4,1484.40 L304.9,1484.60 L306.4,1485.32 L307.9,1486.55 L309.4,1488.30 L310.9,1490.55 L312.4,1493.29 L313.9,1496.50 L315.4,1500.18 L316.9,1504.29 L318.4,1508.82 L319.9,1513.75 L321.4,1519.04 L322.9,1524.68 L324.4,1530.63 L325.9,1536.88 L327.4,1543.38 L328.9,1550.10 L330.4,1557.03 L331.9,1564.12 L333.4,1571.35 L334.9,1578.68 L336.4,1586.09 L337.9,1593.55 L339.4,1601.03 L340.9,1608.50 L342.4,1615.93 L343.9,1623.31 L345.4,1630.60 L346.9,1637.79 L348.4,1644.86 L349.9,1651.78 L351.4,1658.55 L352.9,1665.14 L354.4,1671.55 L355.9,1677.75 L357.4,1683.75 L358.9,1689.54 L360.4,1695.10 L361.9,1700.43 L363.4,1705.53 L364.9,1710.40 L366.4,1715.04 L367.9,1719.44 L369.4,1723.62 L370.9,1727.56 L372.4,1731.28 L373.9,1734.78 L375.4,1738.07 L376.9,1741.15 L378.4,1744.03 L379.9,1746.71 L381.4,1749.21 L382.9,1751.53 L384.4,1753.68 L385.9,1755.67 L387.4,1757.50 L388.9,1759.19 L390.4,1760.74 L391.9,1762.17 L393.4,1763.47 L394.9,1764.65 L396.4,1765.74 L397.9,1766.72 L399.4,1767.61 L400.9,1768.42 L402.4,1769.15 L403.9,1769.81 L405.4,1770.40 L406.9,1770.94 L408.4,1771.41 L409.9,1771.84 L411.4,1772.22 L412.9,1772.56 L414.4,1772.86 L415.9,1773.13 L417.4,1773.37 L418.9,1773.58 L420.4,1773.76 L421.9,1773.92 L423.4,1774.07 L424.9,1774.19 L426.4,1774.30 L427.9,1774.40 L429.4,1774.48 L430.9,1774.56 L432.4,1774.62 L433.9,1774.67 L435.4,1774.72 L436.9,1774.76 L438.4,1774.80 L439.9,1774.83 L441.4,1774.85 L442.9,1774.88 L444.4,1774.90 L445.9,1774.91 L447.4,1774.93 L448.9,1774.94 L450.4,1774.95 L451.9,1774.96 L453.4,1774.96 L454.9,1774.97 L456.4,1774.97 L457.9,1774.98 L459.4,1774.98 L460.9,1774.99 L462.4,1774.99 L463.9,1774.99 L465.4,1774.99 L466.9,1774.99 L468.4,1774.99 L469.9,1775.00 L471.4,1775.00 L472.9,1775.00 L474.4,1775.00 L475.9,1775.00 L477.4,1775.00 L478.9,1775.00 L480.4,1775.00 L481.9,1775.00 L483.4,1775.00 L484.9,1775.00 L486.4,1775.00 L487.9,1775.00 L489.4,1775.00 L490.9,1775.00 L492.4,1775.00 L493.9,1775.00 L495.4,1775.00 L496.9,1775.00 L498.4,1775.00 L499.9,1775.00 L501.4,1775.00 L502.9,1775.00 L504.4,1775.00 L505.9,1775.00 L507.4,1775.00 L508.9,1775.00 L510.4,1775.00 L511.9,1775.00 L513.4,1775.00 L514.9,1775.00 L516.4,1775.00 L517.9,1775.00 L519.4,1775.00 L520.9,1775.00 L522.4,1775.00 L523.9,1775.00 L525.4,1775.00 L526.9,1775.00 L528.4,1775.00 L529.9,1775.00 L531.4,1775.00 L532.9,1775.00 L534.4,1775.00 L535.9,1775.00 L537.4,1775.00 L538.9,1775.00 L540.4,1775.00 L541.9,1775.00 L543.4,1775.00 L544.9,1775.00 L546.4,1775.00 L547.9,1775.00 L549.4,1775.00 L550.9,1775.00 L552.4,1775.00 L553.9,1775.00 L555.4,1775.00 L556.9,1775.00 L558.4,1775.00 L559.9,1775.00 L561.4,1775.00 L562.9,1775.00 L564.4,1775.00 L565.9,1775.00 L567.4,1775.00 L568.9,1775.00 L570.4,1775.00 L571.9,1775.00 L573.4,1775.00 L574.9,1775.00 L576.4,1775.00 L577.9,1775.00 L579.4,1775.00 L580.9,1775.00 L582.4,1775.00 L583.9,1775.00 L585.4,1775.00 L586.9,1775.00 L588.4,1775.00 L589.9,1775.00 L591.4,1775.00 L592.9,1775.00 L594.4,1775.00 L595.9,1775.00 L597.4,1775.00 L598.9,1775.00 L600.4,1775.00 L601.9,1775.00 L603.4,1775.00 L604.9,1775.00 L606.4,1775.00 L607.9,1775.00 L609.4,1775.00 L610.9,1775.00 L612.4,1775.00 L613.9,1775.00 L615.4,1775.00 L616.9,1775.00 L618.4,1775.00 L619.9,1775.00 L621.4,1775.00 L622.9,1775.00 L624.4,1775.00 L625.9,1775.00 L627.4,1775.00 L628.9,1775.00 L630.4,1775.00 L631.9,1775.00 L633.4,1775.00 L634.9,1775.00 L636.4,1775.00 L637.9,1775.00 L639.4,1775.00 L640.9,1775.00 L642.4,1775.00 L643.9,1775.00 L645.4,1775.00 L646.9,1775.00 L648.4,1775.00 L649.9,1775.00 L651.4,1775.00 L652.9,1775.00 L654.4,1775.00 L655.9,1775.00 L657.4,1775.00 L658.9,1775.00 L660.4,1775.00 L661.9,1775.00 L663.4,1775.00 L664.9,1775.00 L666.4,1775.00 L667.9,1775.00 L669.4,1775.00 L670.9,1775.00 L672.4,1775.00 L673.9,1775.00 L675.4,1775.00 L676.9,1775.00 L678.4,1775.00 L679.9,1775.00 L681.4,1775.00 L682.9,1775.00 L684.4,1775.00 L685.9,1775.00 L687.4,1775.00 L688.9,1775.00 L690.4,1775.00 L691.9,1775.00 L693.4,1775.00 L694.9,1775.00 L696.4,1775.00 L697.9,1775.00 L699.4,1775.00 L700.9,1775.00 L702.4,1775.00 L703.9,1775.00 L705.4,1775.00 L706.9,1775.00 L708.4,1775.00" fill="none" stroke="#2f66f5" stroke-width="3.9" stroke-linejoin="round"/>
</g></svg>
<span class="t" style="left:93.68px;top:1790.00px;font-size:23px;line-height:26px;transform:scaleX(0.9600);">94</span>
<span class="t" style="left:192.79px;top:1790.00px;font-size:23px;line-height:26px;transform:scaleX(0.9600);">96</span>
<span class="t" style="left:290.89px;top:1790.00px;font-size:23px;line-height:26px;transform:scaleX(0.9600);">98</span>
<span class="t" style="left:383.78px;top:1790.00px;font-size:23px;line-height:26px;transform:scaleX(0.9600);">100</span>
<span class="t" style="left:482.94px;top:1790.00px;font-size:23px;line-height:26px;transform:scaleX(0.9600);">102</span>
<span class="t" style="left:581.22px;top:1790.00px;font-size:23px;line-height:26px;transform:scaleX(0.9600);">104</span>
<span class="t" style="left:679.33px;top:1790.00px;font-size:23px;line-height:26px;transform:scaleX(0.9600);">106</span>
<span class="t" style="left:335.50px;top:1821.00px;font-size:23px;line-height:26px;transform:scaleX(0.9410);">Assay API (%)</span>
<span class="t" style="left:138.74px;top:1445.00px;font-size:23px;line-height:26px;transform:scaleX(0.8461);">LSL</span>
<span class="t" style="left:630.59px;top:1445.00px;font-size:23px;line-height:26px;transform:scaleX(0.8743);">USL</span>
<span class="t" style="left:750.10px;top:1440.00px;font-size:23px;line-height:26px;transform:scaleX(0.9764);">Density</span>
<span class="t" style="left:793.74px;top:1473.00px;font-size:23px;line-height:26px;transform:scaleX(1.0261);">Overall</span>
<span class="t" style="left:795.58px;top:1500.00px;font-size:23px;line-height:26px;transform:scaleX(1.0512);">Within</span>
<svg class="r" style="left:0;top:0" width="1622" height="2522" viewBox="0 0 1622 2522"><line x1="751.9" x2="789.9" y1="1487.7" y2="1487.7" stroke="#000" stroke-width="3" stroke-dasharray="6.8 8.8"/><line x1="751.9" x2="789.9" y1="1515.6" y2="1515.6" stroke="#2f66f5" stroke-width="4.2"/></svg>
<div class="r " style="left:937.8px;top:1435.8px;width:152.8px;height:217.2px;background:#e9e9e7;"></div>
<span class="t" style="left:943.42px;top:1439.00px;font-size:23px;line-height:26px;transform:scaleX(0.8592);">LSL</span>
<span class="t" style="left:1170.57px;top:1439.00px;font-size:23px;line-height:26px;transform:scaleX(0.9600);">95</span>
<span class="t" style="left:943.47px;top:1469.00px;font-size:23px;line-height:26px;transform:scaleX(0.8861);">USL</span>
<span class="t" style="left:1158.32px;top:1469.00px;font-size:23px;line-height:26px;transform:scaleX(0.9600);">105</span>
<span class="t" style="left:943.36px;top:1500.00px;font-size:23px;line-height:26px;transform:scaleX(1.1646);">N</span>
<span class="t" style="left:1170.46px;top:1500.00px;font-size:23px;line-height:26px;transform:scaleX(0.9600);">40</span>
<span class="t" style="left:943.98px;top:1531.00px;font-size:23px;line-height:26px;transform:scaleX(0.9858);">Sample Mean</span>
<span class="t" style="left:1170.57px;top:1531.00px;font-size:23px;line-height:26px;transform:scaleX(0.9600);">98</span>
<span class="t" style="left:944.38px;top:1563.00px;font-size:23px;line-height:26px;transform:scaleX(1.0003);">Within Sigma</span>
<span class="t" style="left:1103.23px;top:1563.00px;font-size:23px;line-height:26px;transform:scaleX(0.9600);">0,716667</span>
<span class="t" style="left:943.49px;top:1593.00px;font-size:23px;line-height:26px;transform:scaleX(0.9756);">Overall Sigma</span>
<span class="t" style="left:1103.01px;top:1593.00px;font-size:23px;line-height:26px;transform:scaleX(0.9600);">0,965826</span>
<span class="t" style="left:941.87px;top:1625.00px;font-size:23px;line-height:26px;transform:scaleX(0.9971);">Stability Index</span>
<span class="t" style="left:1103.01px;top:1625.00px;font-size:23px;line-height:26px;transform:scaleX(0.9600);">1,347665</span>
<svg class="r red" style="left:933.4px;top:1619.4px" width="277.6" height="41.3" viewBox="0 0 277.6 41.3"><rect x="3.6" y="3.6" width="270.4" height="34.1" fill="none" stroke="#fe0000" stroke-width="7.2"/></svg>
<span class="t" style="left:928.78px;top:1667.00px;font-size:23px;line-height:26px;transform:scaleX(1.0047);">Within sigma is set to a value derived from user-defined control</span>
<span class="t" style="left:927.29px;top:1695.00px;font-size:23px;line-height:26px;transform:scaleX(1.0783);">limits.</span>
<div class="r hd" style="left:65.1px;top:1881.0px;width:475.6px;height:36.2px"></div>
<span class="t" style="left:70.60px;top:1886.00px;font-size:25.5px;line-height:28px;transform:scaleX(1.0667);font-weight:bold;-webkit-text-stroke:0.5px #000;color:#000;">Within Sigma Capability</span>
<div class="r " style="left:67.6px;top:1926.4px;width:80.0px;height:28.6px;background:#ececea;"></div>
<div class="r " style="left:149.6px;top:1926.4px;width:111.4px;height:28.6px;background:#ececea;"></div>
<div class="r " style="left:263.0px;top:1926.4px;width:135.5px;height:28.6px;background:#ececea;"></div>
<div class="r " style="left:400.5px;top:1926.4px;width:138.1px;height:28.6px;background:#ececea;"></div>
<div class="r " style="left:67.6px;top:1955.0px;width:80.0px;height:126.0px;background:#e9e9e7;"></div>
<span class="t" style="left:73.08px;top:1929.00px;font-size:22.6px;line-height:25px;transform:scaleX(1.0348);font-weight:bold;-webkit-text-stroke:0.5px #000;color:#000;">Index</span>
<span class="t" style="left:159.51px;top:1929.00px;font-size:22.6px;line-height:25px;transform:scaleX(1.0156);font-weight:bold;-webkit-text-stroke:0.5px #000;color:#000;">Estimate</span>
<span class="t" style="left:271.50px;top:1929.00px;font-size:22.6px;line-height:25px;transform:scaleX(1.0228);font-weight:bold;-webkit-text-stroke:0.5px #000;color:#000;">Lower 95%</span>
<span class="t" style="left:410.59px;top:1929.00px;font-size:22.6px;line-height:25px;transform:scaleX(1.0372);font-weight:bold;-webkit-text-stroke:0.5px #000;color:#000;">Upper 95%</span>
<span class="t" style="left:73.50px;top:1960.00px;font-size:23px;line-height:26px;transform:scaleX(0.9525);">Cpk</span>
<span class="t" style="left:199.98px;top:1960.00px;font-size:23px;line-height:26px;transform:scaleX(0.9600);">1,395</span>
<span class="t" style="left:337.49px;top:1960.00px;font-size:23px;line-height:26px;transform:scaleX(0.9600);">0,989</span>
<span class="t" style="left:477.10px;top:1960.00px;font-size:23px;line-height:26px;transform:scaleX(0.9600);">1,802</span>
<span class="t" style="left:73.47px;top:1991.00px;font-size:23px;line-height:26px;transform:scaleX(0.9857);">Cpl</span>
<span class="t" style="left:199.98px;top:1991.00px;font-size:23px;line-height:26px;transform:scaleX(0.9600);">1,395</span>
<span class="t" style="left:337.27px;top:1991.00px;font-size:23px;line-height:26px;transform:scaleX(0.9600);">0,990</span>
<span class="t" style="left:476.88px;top:1991.00px;font-size:23px;line-height:26px;transform:scaleX(0.9600);">1,798</span>
<span class="t" style="left:73.45px;top:2022.00px;font-size:23px;line-height:26px;transform:scaleX(0.9960);">Cpu</span>
<span class="t" style="left:199.98px;top:2022.00px;font-size:23px;line-height:26px;transform:scaleX(0.9600);">3,256</span>
<span class="t" style="left:337.60px;top:2022.00px;font-size:23px;line-height:26px;transform:scaleX(0.9600);">2,337</span>
<span class="t" style="left:477.10px;top:2022.00px;font-size:23px;line-height:26px;transform:scaleX(0.9600);">4,172</span>
<span class="t" style="left:73.49px;top:2053.00px;font-size:23px;line-height:26px;transform:scaleX(0.9686);">Cp</span>
<span class="t" style="left:199.98px;top:2053.00px;font-size:23px;line-height:26px;transform:scaleX(0.9600);">2,326</span>
<span class="t" style="left:337.16px;top:2053.00px;font-size:23px;line-height:26px;transform:scaleX(0.9600);">1,674</span>
<span class="t" style="left:476.88px;top:2053.00px;font-size:23px;line-height:26px;transform:scaleX(0.9600);">2,976</span>
<svg class="r red" style="left:59.3px;top:1953.9px" width="212.3" height="42.3" viewBox="0 0 212.3 42.3"><rect x="3.6" y="3.6" width="205.1" height="35.1" fill="none" stroke="#fe0000" stroke-width="7.2"/></svg>
<div class="r hd" style="left:570.3px;top:1881.0px;width:474.7px;height:36.2px"></div>
<span class="t" style="left:574.23px;top:1886.00px;font-size:25.5px;line-height:28px;transform:scaleX(1.0522);font-weight:bold;-webkit-text-stroke:0.5px #000;color:#000;">Overall Sigma Capability</span>
<div class="r " style="left:572.6px;top:1926.4px;width:80.1px;height:28.6px;background:#ececea;"></div>
<div class="r " style="left:654.7px;top:1926.4px;width:111.3px;height:28.6px;background:#ececea;"></div>
<div class="r " style="left:768.0px;top:1926.4px;width:135.5px;height:28.6px;background:#ececea;"></div>
<div class="r " style="left:905.5px;top:1926.4px;width:137.5px;height:28.6px;background:#ececea;"></div>
<div class="r " style="left:572.6px;top:1955.0px;width:80.1px;height:126.0px;background:#e9e9e7;"></div>
<span class="t" style="left:578.18px;top:1929.00px;font-size:22.6px;line-height:25px;transform:scaleX(1.0330);font-weight:bold;-webkit-text-stroke:0.5px #000;color:#000;">Index</span>
<span class="t" style="left:664.51px;top:1929.00px;font-size:22.6px;line-height:25px;transform:scaleX(1.0167);font-weight:bold;-webkit-text-stroke:0.5px #000;color:#000;">Estimate</span>
<span class="t" style="left:776.51px;top:1929.00px;font-size:22.6px;line-height:25px;transform:scaleX(1.0168);font-weight:bold;-webkit-text-stroke:0.5px #000;color:#000;">Lower 95%</span>
<span class="t" style="left:914.08px;top:1929.00px;font-size:22.6px;line-height:25px;transform:scaleX(1.0451);font-weight:bold;-webkit-text-stroke:0.5px #000;color:#000;">Upper 95%</span>
<span class="t" style="left:577.93px;top:1960.00px;font-size:23px;line-height:26px;transform:scaleX(0.9594);">Ppk</span>
<span class="t" style="left:705.08px;top:1960.00px;font-size:23px;line-height:26px;transform:scaleX(0.9600);">1,035</span>
<span class="t" style="left:841.68px;top:1960.00px;font-size:23px;line-height:26px;transform:scaleX(0.9600);">0,783</span>
<span class="t" style="left:981.50px;top:1960.00px;font-size:23px;line-height:26px;transform:scaleX(0.9600);">1,287</span>
<span class="t" style="left:577.87px;top:1991.00px;font-size:23px;line-height:26px;transform:scaleX(0.9967);">Ppl</span>
<span class="t" style="left:705.08px;top:1991.00px;font-size:23px;line-height:26px;transform:scaleX(0.9600);">1,035</span>
<span class="t" style="left:841.68px;top:1991.00px;font-size:23px;line-height:26px;transform:scaleX(0.9600);">0,783</span>
<span class="t" style="left:981.28px;top:1991.00px;font-size:23px;line-height:26px;transform:scaleX(0.9600);">1,285</span>
<span class="t" style="left:577.87px;top:2022.00px;font-size:23px;line-height:26px;transform:scaleX(0.9919);">Ppu</span>
<span class="t" style="left:705.08px;top:2022.00px;font-size:23px;line-height:26px;transform:scaleX(0.9600);">2,416</span>
<span class="t" style="left:841.79px;top:2022.00px;font-size:23px;line-height:26px;transform:scaleX(0.9600);">1,871</span>
<span class="t" style="left:981.39px;top:2022.00px;font-size:23px;line-height:26px;transform:scaleX(0.9600);">2,959</span>
<span class="t" style="left:577.93px;top:2053.00px;font-size:23px;line-height:26px;transform:scaleX(0.9605);">Pp</span>
<span class="t" style="left:705.08px;top:2053.00px;font-size:23px;line-height:26px;transform:scaleX(0.9600);">1,726</span>
<span class="t" style="left:841.46px;top:2053.00px;font-size:23px;line-height:26px;transform:scaleX(0.9600);">1,344</span>
<span class="t" style="left:981.50px;top:2053.00px;font-size:23px;line-height:26px;transform:scaleX(0.9600);">2,107</span>
<svg class="r red" style="left:561.0px;top:1953.9px" width="212.7" height="42.3" viewBox="0 0 212.7 42.3"><rect x="3.6" y="3.6" width="205.5" height="35.1" fill="none" stroke="#fe0000" stroke-width="7.2"/></svg>
<div class="r hd" style="left:65.1px;top:2095.6px;width:546.9px;height:34.2px"></div>
<span class="t" style="left:69.78px;top:2101.00px;font-size:25.5px;line-height:28px;transform:scaleX(1.1006);font-weight:bold;-webkit-text-stroke:0.5px #000;color:#000;">Nonconformance</span>
<div class="r " style="left:68.3px;top:2140.4px;width:145.1px;height:57.6px;background:#ececea;"></div>
<div class="r " style="left:215.4px;top:2140.4px;width:146.5px;height:57.6px;background:#ececea;"></div>
<div class="r " style="left:363.9px;top:2140.4px;width:122.6px;height:57.6px;background:#ececea;"></div>
<div class="r " style="left:488.5px;top:2140.4px;width:121.8px;height:57.6px;background:#ececea;"></div>
<div class="r " style="left:68.3px;top:2199.5px;width:144.9px;height:92.8px;background:#e9e9e7;"></div>
<span class="t" style="left:72.93px;top:2171.00px;font-size:22.6px;line-height:25px;transform:scaleX(1.0685);font-weight:bold;-webkit-text-stroke:0.5px #000;color:#000;">Portion</span>
<span class="t" style="left:226.11px;top:2171.00px;font-size:22.6px;line-height:25px;transform:scaleX(0.9825);font-weight:bold;-webkit-text-stroke:0.5px #000;color:#000;">Observed %</span>
<span class="t" style="left:379.70px;top:2141.00px;font-size:22.6px;line-height:25px;transform:scaleX(1.0183);font-weight:bold;-webkit-text-stroke:0.5px #000;color:#000;">Expected</span>
<span class="t" style="left:381.50px;top:2171.00px;font-size:22.6px;line-height:25px;transform:scaleX(1.0254);font-weight:bold;-webkit-text-stroke:0.5px #000;color:#000;">Within %</span>
<span class="t" style="left:504.30px;top:2141.00px;font-size:22.6px;line-height:25px;transform:scaleX(1.0193);font-weight:bold;-webkit-text-stroke:0.5px #000;color:#000;">Expected</span>
<span class="t" style="left:500.09px;top:2171.00px;font-size:22.6px;line-height:25px;transform:scaleX(1.0060);font-weight:bold;-webkit-text-stroke:0.5px #000;color:#000;">Overall %</span>
<span class="t" style="left:72.76px;top:2202.00px;font-size:23px;line-height:26px;transform:scaleX(0.9431);">Below LSL</span>
<span class="t" style="left:287.11px;top:2202.00px;font-size:23px;line-height:26px;transform:scaleX(0.9600);">0,0000</span>
<span class="t" style="left:411.70px;top:2202.00px;font-size:23px;line-height:26px;transform:scaleX(0.9600);">0,0014</span>
<span class="t" style="left:536.52px;top:2202.00px;font-size:23px;line-height:26px;transform:scaleX(0.9600);">0,0948</span>
<span class="t" style="left:74.50px;top:2234.00px;font-size:23px;line-height:26px;transform:scaleX(0.9465);">Above USL</span>
<span class="t" style="left:287.11px;top:2234.00px;font-size:23px;line-height:26px;transform:scaleX(0.9600);">0,0000</span>
<span class="t" style="left:411.81px;top:2234.00px;font-size:23px;line-height:26px;transform:scaleX(0.9600);">0,0000</span>
<span class="t" style="left:536.41px;top:2234.00px;font-size:23px;line-height:26px;transform:scaleX(0.9600);">0,0000</span>
<span class="t" style="left:74.03px;top:2264.00px;font-size:23px;line-height:26px;transform:scaleX(1.0127);">Total Outside</span>
<span class="t" style="left:287.11px;top:2264.00px;font-size:23px;line-height:26px;transform:scaleX(0.9600);">0,0000</span>
<span class="t" style="left:411.70px;top:2264.00px;font-size:23px;line-height:26px;transform:scaleX(0.9600);">0,0014</span>
<span class="t" style="left:536.52px;top:2264.00px;font-size:23px;line-height:26px;transform:scaleX(0.9600);">0,0948</span>
<div class="r stage" style="left:1283.9px;top:2182px;width:240.9px;height:117.4px"></div>
<span class="t" style="left:1335.20px;top:2215.00px;font-size:36.5px;line-height:41px;transform:scaleX(0.9755);color:#000;">Stage 3b</span>
<span class="t cap" style="left:49.21px;top:2389.00px;font-size:45px;line-height:51px;transform:scaleX(0.9582);font-style:italic;word-spacing:-3.2px;color:#1a1a1a;">Figure 3 - Distributions des données de dosage (Stage 3a en haut et Stage 3b en</span>
<span class="t cap" style="left:200.35px;top:2454.00px;font-size:45px;line-height:51px;transform:scaleX(0.9644);font-style:italic;word-spacing:-3.2px;color:#1a1a1a;">bas), indexes de capabilité (Cpk) / performance (Ppk) et stabilité</span>
</div></body></html>
